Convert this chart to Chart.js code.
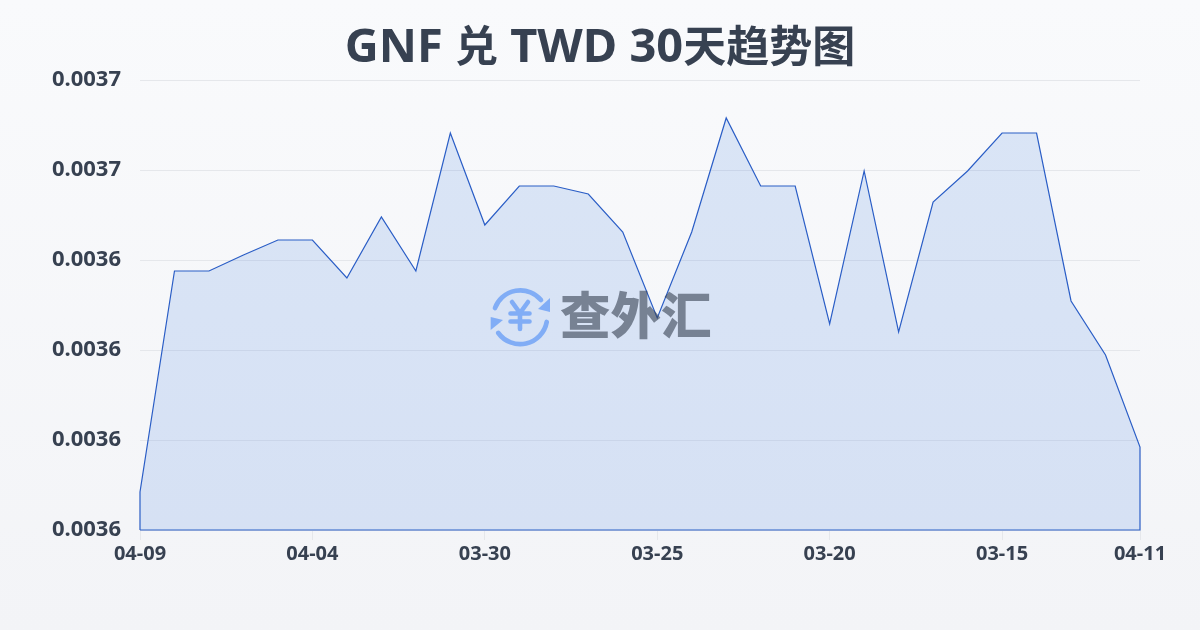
<!DOCTYPE html>
<html>
<head>
<meta charset="utf-8">
<title>GNF 兑 TWD 30天趋势图</title>
<script src="https://cdn.jsdelivr.net/npm/chart.js@4/dist/chart.umd.js"></script>
<style>
  html, body { margin: 0; padding: 0; }
  body {
    width: 1200px;
    height: 630px;
    overflow: hidden;
    position: relative;
    background: linear-gradient(180deg, #f9fafc 0%, #f3f4f7 100%);
  }
  #chart { position: absolute; left: 0; top: 0; }
  #chart-title {
    position: absolute;
    left: 0;
    top: 8px;
    width: 1200px;
    margin: 0;
    text-align: center;
    font: 700 47px/70px "Noto Sans", sans-serif;
    color: #374151;
    white-space: nowrap;
  }
  #chart-title span { font: 700 43px/70px "Noto Sans CJK SC", sans-serif; }
  #watermark { position: absolute; left: 488px; top: 283px; width: 64px; height: 64px; opacity: 0.55; }
  #watermark-text {
    position: absolute;
    left: 560px;
    top: 276px;
    font: 900 50.5px/72px "Noto Sans CJK SC", sans-serif;
    color: rgba(55, 65, 81, 0.6);
    white-space: nowrap;
  }
</style>
</head>
<body>
<canvas id="chart" width="1200" height="630"></canvas>
<h1 id="chart-title">GNF <span>兑</span> TWD 30<span>天趋势图</span></h1>
<svg id="watermark" viewBox="0 0 64 64" fill="none" stroke="#3b82f6">
  <path d="M7 25 A27 27 0 0 1 53 17" stroke-width="4.7" stroke-linecap="round"/>
  <path d="M58.7 39 A27 27 0 0 1 10.3 50" stroke-width="4.7" stroke-linecap="round"/>
  <path d="M62 15 L62 29 L50 26 Z" fill="#3b82f6" stroke="none"/>
  <path d="M2.7 34 L2.7 47 L15 37 Z" fill="#3b82f6" stroke="none"/>
  <path d="M24 19 L32 30 L40 19 M32 30 V46 M22.5 30.5 H41.5 M22.5 38.5 H41.5" stroke-width="4.6" stroke-linecap="round" stroke-linejoin="round"/>
</svg>
<div id="watermark-text">查外汇</div>
<script>
const date_labels = [
  "04-09", "04-08", "04-07", "04-06", "04-05", "04-04", "04-03", "04-02", "04-01", "03-31",
  "03-30", "03-29", "03-28", "03-27", "03-26", "03-25", "03-24", "03-23", "03-22", "03-21",
  "03-20", "03-19", "03-18", "03-17", "03-16", "03-15", "03-14", "03-13", "03-12", "04-11",
];
const rates = [
  0.00358844, 0.00363756, 0.00363756, 0.00364111, 0.00364444, 0.00364444, 0.003636, 0.00364956, 0.00363756, 0.00366822,
  0.00364778, 0.00365644, 0.00365644, 0.00365467, 0.00364622, 0.00362711, 0.00364622, 0.00367156, 0.00365644, 0.00365644,
  0.00362578, 0.00365978, 0.003624, 0.00365289, 0.00365978, 0.00366822, 0.00366822, 0.00363089, 0.00361889, 0.00359844,
];
const shown_ticks = [0, 5, 10, 15, 20, 25, 29];
const y_min = 0.00358;
const y_max = 0.00368;
const y_step = 0.00002;

const last = rates.length - 1;
const points = rates.map((v, i) => ({ x: i, y: v }));
// the outline runs down to the axis on both ends and along the baseline
const outline = [{ x: 0, y: y_min }]
  .concat(points)
  .concat([{ x: last, y: y_min }, { x: 0, y: y_min }]);

const ink = "#374151";

new Chart(document.getElementById("chart"), {
  type: "line",
  data: {
    datasets: [
      {
        data: points,
        borderWidth: 0,
        backgroundColor: "rgba(50, 115, 220, 0.15)",
        fill: "start",
        pointRadius: 0,
        tension: 0,
      },
      {
        data: outline,
        borderColor: "#2a5cc4",
        borderWidth: 1.2,
        fill: false,
        clip: false,
        pointRadius: 0,
        tension: 0,
      },
    ],
  },
  options: {
    responsive: false,
    animation: false,
    layout: { padding: { top: 80, right: 60 } },
    plugins: {
      legend: { display: false },
      tooltip: { enabled: false },
    },
    scales: {
      x: {
        type: "linear",
        min: 0,
        max: last,
        afterBuildTicks: (scale) => {
          scale.ticks = shown_ticks.map((i) => ({ value: i }));
        },
        afterFit: (scale) => {
          scale.height = 100;
        },
        ticks: {
          autoSkip: false,
          maxRotation: 0,
          padding: 2,
          color: ink,
          font: { family: '"Noto Sans", sans-serif', size: 20, weight: "bold" },
          callback: (value) => date_labels[value],
        },
        border: { display: false },
        grid: { drawOnChartArea: false, color: "#e5e7eb", tickLength: 10 },
      },
      y: {
        min: y_min,
        max: y_max,
        afterFit: (scale) => {
          scale.width = 140;
        },
        ticks: {
          stepSize: y_step,
          padding: 19,
          color: ink,
          font: { family: '"Noto Sans", sans-serif', size: 22, weight: "bold" },
          callback: (value) => value.toFixed(4),
        },
        border: { display: false },
        grid: { color: "#e5e7eb", drawTicks: false },
      },
    },
  },
});
</script>
</body>
</html>
